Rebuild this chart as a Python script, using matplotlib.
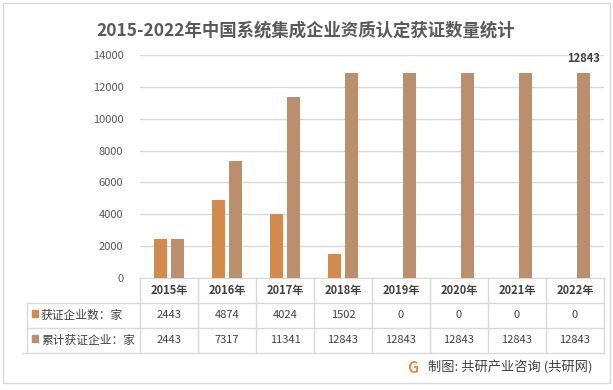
import matplotlib.pyplot as plt
from matplotlib.patches import Rectangle
from matplotlib.lines import Line2D

plt.rcParams['font.family'] = ['Noto Sans CJK SC', 'DejaVu Sans']

# data
years = ['2015年', '2016年', '2017年', '2018年', '2019年', '2020年', '2021年', '2022年']
new_certs = [2443, 4874, 4024, 1502, 0, 0, 0, 0]
total_certs = [2443, 7317, 11341, 12843, 12843, 12843, 12843, 12843]
row_names = ['获证企业数：家', '累计获证企业：家']

c_new = '#D38B4D'
c_total = '#BB8E6C'
txt = '#404040'
grid = '#D9D9D9'

W, H = 613, 390
fig = plt.figure(figsize=(W / 100, H / 100), dpi=100)

# outer frame
fig.add_artist(Rectangle((3 / W, 1 - 383 / H), 607 / W, 380 / H, transform=fig.transFigure,
                         fill=False, edgecolor=grid, linewidth=1))

ax = fig.add_axes([140 / W, 1 - 278 / H, 464 / W, 223 / H])
n = len(years)
x = list(range(n))
bw = 0.224
ax.bar([i - 0.147 for i in x], new_certs, width=bw, color=c_new, zorder=3)
ax.bar([i + 0.147 for i in x], total_certs, width=bw, color=c_total, zorder=3)

ax.set_xlim(-0.5, n - 0.5)
ax.set_ylim(0, 14000)
ax.set_yticks(range(0, 14001, 2000))
ax.tick_params(axis='y', length=0, labelsize=8, labelcolor='#595959', pad=12)
ax.set_xticks([])
ax.grid(axis='y', color=grid, linewidth=1, zorder=0)
for s in ['left', 'right', 'top']:
    ax.spines[s].set_visible(False)
ax.spines['bottom'].set_color(grid)

# label on last cumulative bar
ax.text(n - 1 + 0.147, total_certs[-1] + 500, str(total_certs[-1]), ha='center', va='bottom',
        fontsize=8, fontweight='bold', color=txt)

# data table under the axis (axes coordinates)
T = ax.transAxes
rows_y = [0, -0.112, -0.224, -0.336]
left = -0.2435
kw = dict(transform=T, color=grid, linewidth=1, clip_on=False)
for i in range(n + 1):
    ax.add_line(Line2D([i / n, i / n], [rows_y[0], rows_y[3]], **kw))
ax.add_line(Line2D([left, left], [rows_y[1], rows_y[3]], **kw))
ax.add_line(Line2D([left, 1], [rows_y[1], rows_y[1]], **kw))
ax.add_line(Line2D([left, 1], [rows_y[2], rows_y[2]], **kw))
ax.add_line(Line2D([left - 0.01, 1], [rows_y[3], rows_y[3]], **kw))

for i, yr in enumerate(years):
    cx = (i + 0.5) / n
    ax.text(cx, (rows_y[0] + rows_y[1]) / 2, yr, transform=T, ha='center', va='center',
            fontsize=8, color=txt, fontweight='bold')
    ax.text(cx, (rows_y[1] + rows_y[2]) / 2, str(new_certs[i]), transform=T, ha='center',
            va='center', fontsize=8, color=txt)
    ax.text(cx, (rows_y[2] + rows_y[3]) / 2, str(total_certs[i]), transform=T, ha='center',
            va='center', fontsize=8, color=txt)

for r, (name, col) in enumerate(zip(row_names, [c_new, c_total])):
    yc = (rows_y[r + 1] + rows_y[r + 2]) / 2
    ax.add_patch(Rectangle((-0.2325, yc - 0.005), 0.0135, 0.028, transform=T,
                           color=col, clip_on=False))
    ax.text(-0.2135, yc, name, transform=T, ha='left', va='center', fontsize=8.5, color=txt)

fig.suptitle('2015-2022年中国系统集成企业资质认定获证数量统计', x=306 / W, y=1 - 31 / H,
             va='center', fontsize=12.5, fontweight='bold', color='#595959')

# source line
fig.text(413 / W, 1 - 368 / H, 'G', ha='center', va='center', fontsize=11,
         fontweight='bold', color='#F08A3C')
fig.text(428 / W, 1 - 368 / H, '制图: 共研产业咨询 (共研网)', ha='left', va='center',
         fontsize=9.5, color=txt)

fig.savefig('out.png', dpi=100)
